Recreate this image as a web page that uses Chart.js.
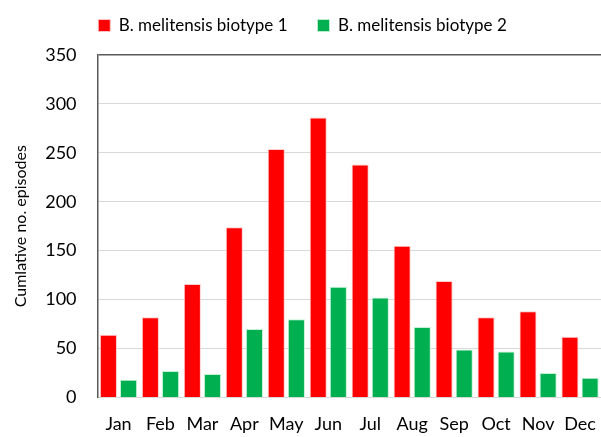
<!DOCTYPE html>
<html>
<head>
<meta charset="utf-8">
<script src="https://cdn.jsdelivr.net/npm/chart.js@4/dist/chart.umd.min.js"></script>
<style>
  html, body { margin: 0; padding: 0; background: #fff; }
  #wrap { width: 601px; height: 437px; }
</style>
</head>
<body>
<div id="wrap"><canvas id="mycanvas" width="601" height="437"></canvas></div>
<script>
var months = ["Jan", "Feb", "Mar", "Apr", "May", "Jun", "Jul", "Aug", "Sep", "Oct", "Nov", "Dec"];
var biotype1 = [64, 82, 116, 174, 254, 286, 238, 155, 119, 82, 88, 62];
var biotype2 = [18, 27, 24, 70, 80, 113, 102, 72, 49, 47, 25, 20];
var yTicks = [0, 50, 100, 150, 200, 250, 300, 350];

var font = "Lato, 'Open Sans', sans-serif";

// legend sits high, plot box starts lower -> stretch legend box a bit
var legendGap = {
	id: 'legendGap',
	beforeInit: function(chart) {
		var fit = chart.legend.fit;
		chart.legend.fit = function() {
			fit.bind(chart.legend)();
			this.height += 11;
		};
	}
};

var ctx = document.getElementById("mycanvas");

var chart = new Chart(ctx, {
	type: 'bar',
	data: {
		labels: months,
		datasets: [
			{
				label: "B. melitensis biotype 1",
				backgroundColor: "#ff0000",
				borderColor: "rgba(255, 200, 200, 0.9)",
				borderWidth: 1,
				data: biotype1
			},
			{
				label: "B. melitensis biotype 2",
				backgroundColor: "#00b050",
				borderColor: "rgba(190, 240, 210, 0.9)",
				borderWidth: 1,
				data: biotype2
			}
		]
	},
	options: {
		responsive: false,
		animation: false,
		devicePixelRatio: 1,
		categoryPercentage: 0.96,
		barPercentage: 0.85,
		layout: { padding: { left: 4, right: 0, top: -13, bottom: 2 } },
		plugins: {
			tooltip: { enabled: false },
			legend: {
				position: 'top',
				labels: {
					color: '#000',
					font: { family: font, size: 17 },
					boxWidth: 12,
					boxHeight: 12,
					padding: 30
				}
			}
		},
		scales: {
			x: {
				grid: {
					drawOnChartArea: false,
					drawTicks: true,
					tickLength: 16,
					tickColor: 'rgba(0,0,0,0)'
				},
				border: { color: '#d9d9d9', width: 1 },
				ticks: { color: '#000', font: { family: font, size: 18 }, padding: 0 }
			},
			y: {
				min: 0,
				max: 350,
				afterBuildTicks: function(axis) {
					axis.ticks = yTicks.map(function(v) { return { value: v }; });
				},
				grid: {
					drawTicks: false,
					color: function(c) { return c.tick && c.tick.value === 350 ? '#595959' : '#d9d9d9'; },
					lineWidth: function(c) { return c.tick && c.tick.value === 350 ? 1.5 : 1; }
				},
				border: { color: '#595959', width: 1.5 },
				ticks: { color: '#000', font: { family: font, size: 18 }, padding: 21 },
				title: {
					display: true,
					text: "Cumlative no. episodes",
					color: '#000',
					font: { family: font, size: 16 },
					padding: { top: 7, bottom: -6 }
				}
			}
		}
	},
	plugins: [legendGap]
});
</script>
</body>
</html>
